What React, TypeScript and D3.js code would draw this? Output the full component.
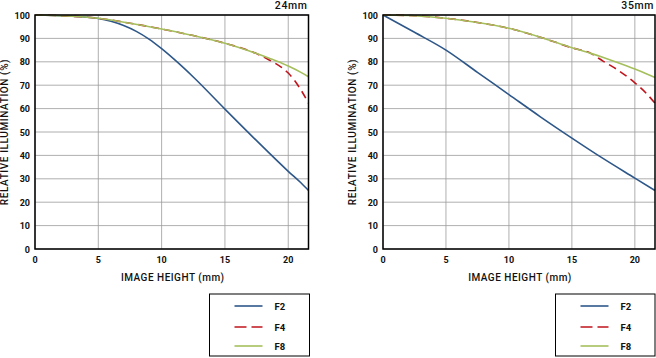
import React from "react";
import * as d3 from "d3";

const xTicks = [0, 5, 10, 15, 20];
const yTicks = [0, 10, 20, 30, 40, 50, 60, 70, 80, 90, 100];
const seriesNames = ["F2", "F4", "F8"];
const seriesColors = ["#2e5789", "#c0141c", "#a5bf5c"];

const h24 = [0, 2.5, 5, 6, 7, 8, 9, 10, 11, 12.5, 15, 17.5, 20, 21, 21.6];
const f2_24 = [100, 99.6, 98.5, 97.3, 95.5, 93, 89.7, 85.6, 81, 73.5, 59.8, 46.3, 33.2, 28.3, 25];
const h24b = [0, 2.5, 5, 7.5, 10, 12.5, 15, 17.5, 18.5, 19.5, 20, 21, 21.6];
const f4_24 = [100, 99.6, 98.6, 96.5, 94, 91.2, 87.9, 83.5, 80.8, 77.5, 75.2, 68, 62.3];
const f8_24 = [100, 99.6, 98.6, 96.5, 94, 91.2, 87.9, 83.5, 81.5, 79.4, 78.2, 75.5, 73.6];

const h35 = [0, 2.5, 5, 7.5, 10, 12.5, 15, 17.5, 20, 21.6];
const f2_35 = [100, 92.6, 85, 75.5, 66, 56.5, 47.4, 38.6, 30.3, 25];
const h35b = [0, 2.5, 5, 7.5, 10, 12.5, 15, 16.5, 17.5, 18.5, 20, 21, 21.6];
const f4_35 = [100, 99.7, 98.6, 96.8, 94.3, 90.5, 86, 83.6, 80.2, 77, 71, 66, 62.3];
const f8_35 = [100, 99.7, 98.6, 96.8, 94.3, 90.5, 86, 83.6, 81.8, 79.9, 76.9, 74.7, 73.3];

const FONT = "Roboto, 'Liberation Sans', Arial, sans-serif";

type Series = { x: number[]; y: number[] };

function Chart({ left, right, title, series }: { left: number; right: number; title: string; series: Series[] }) {
  const top = 15;
  const bottom = 249;
  const x = d3.scaleLinear().domain([0, 21.6]).range([left, right]);
  const y = d3.scaleLinear().domain([0, 100]).range([bottom, top]);
  const line = d3.line<[number, number]>().x((d) => x(d[0])).y((d) => y(d[1])).curve(d3.curveMonotoneX);
  const midY = (top + bottom) / 2;
  return (
    <g>
      {xTicks.map((t) => (
        <line key={"gx" + t} x1={x(t)} x2={x(t)} y1={top} y2={bottom} stroke="#9a9a9a" strokeWidth={0.8} />
      ))}
      {yTicks.map((t) => (
        <line key={"gy" + t} x1={left} x2={right} y1={y(t)} y2={y(t)} stroke="#9a9a9a" strokeWidth={0.8} />
      ))}
      {series.map((s, i) => {
        const pts = s.x.map((v, j) => [v, s.y[j]] as [number, number]);
        return (
          <path
            key={"s" + i}
            d={line(pts) || ""}
            fill="none"
            stroke={seriesColors[i]}
            strokeWidth={1.6}
            strokeDasharray={i === 1 ? "8,5" : undefined}
          />
        );
      })}
      <rect x={left} y={top} width={right - left} height={bottom - top} fill="none" stroke="#000" strokeWidth={1.5} />
      {yTicks.map((t) => (
        <text key={"ty" + t} x={left - 5} y={y(t) + 3.5} textAnchor="end" fontSize={9} fontWeight="bold" fontFamily={FONT} fill="#111">
          {t}
        </text>
      ))}
      {xTicks.map((t) => (
        <text key={"tx" + t} x={x(t)} y={263} textAnchor="middle" fontSize={9} fontWeight="bold" fontFamily={FONT} fill="#111">
          {t}
        </text>
      ))}
      <text x={(left + right) / 2 + 1} y={281} textAnchor="middle" fontSize={10} fontFamily={FONT} fill="#111" fontWeight={500} letterSpacing={0.5}>
        IMAGE HEIGHT (mm)
      </text>
      <text
        transform={`translate(${left - 27},${midY}) rotate(-90)`}
        textAnchor="middle"
        fontSize={10}
        fontFamily={FONT}
        fontWeight={500}
        fill="#111"
        letterSpacing={0.6}
      >
        RELATIVE ILLUMINATION (%)
      </text>
      <text x={right - 1} y={9} textAnchor="end" fontSize={10.5} fontFamily={FONT} fontWeight={500} fill="#111" letterSpacing={0.6}>
        {title}
      </text>
    </g>
  );
}

function Legend({ x0, width }: { x0: number; width: number }) {
  const ys = [306, 327, 346];
  return (
    <g>
      <rect x={x0} y={294} width={width} height={62} fill="none" stroke="#000" strokeWidth={1} />
      {seriesNames.map((n, i) => (
        <g key={n}>
          <line
            x1={x0 + 25}
            x2={x0 + 53}
            y1={ys[i]}
            y2={ys[i]}
            stroke={seriesColors[i]}
            strokeWidth={1.6}
            strokeDasharray={i === 1 ? "12,5" : undefined}
          />
          <text x={x0 + 65} y={ys[i] + 3.5} fontSize={9.5} fontWeight="bold" fontFamily={FONT} fill="#111">
            {n}
          </text>
        </g>
      ))}
    </g>
  );
}

export default function App() {
  const s24: Series[] = [
    { x: h24, y: f2_24 },
    { x: h24b, y: f4_24 },
    { x: h24b, y: f8_24 },
  ];
  const s35: Series[] = [
    { x: h35, y: f2_35 },
    { x: h35b, y: f4_35 },
    { x: h35b, y: f8_35 },
  ];
  return (
    <svg width={656} height={358} style={{ position: "absolute", left: 0, top: 0, background: "#fff" }}>
      <rect width={656} height={358} fill="#fff" />
      <Chart left={35} right={308.5} title="24mm" series={s24} />
      <Chart left={383} right={655} title="35mm" series={s35} />
      <Legend x0={209.5} width={100} />
      <Legend x0={555.5} width={99.5} />
    </svg>
  );
}
